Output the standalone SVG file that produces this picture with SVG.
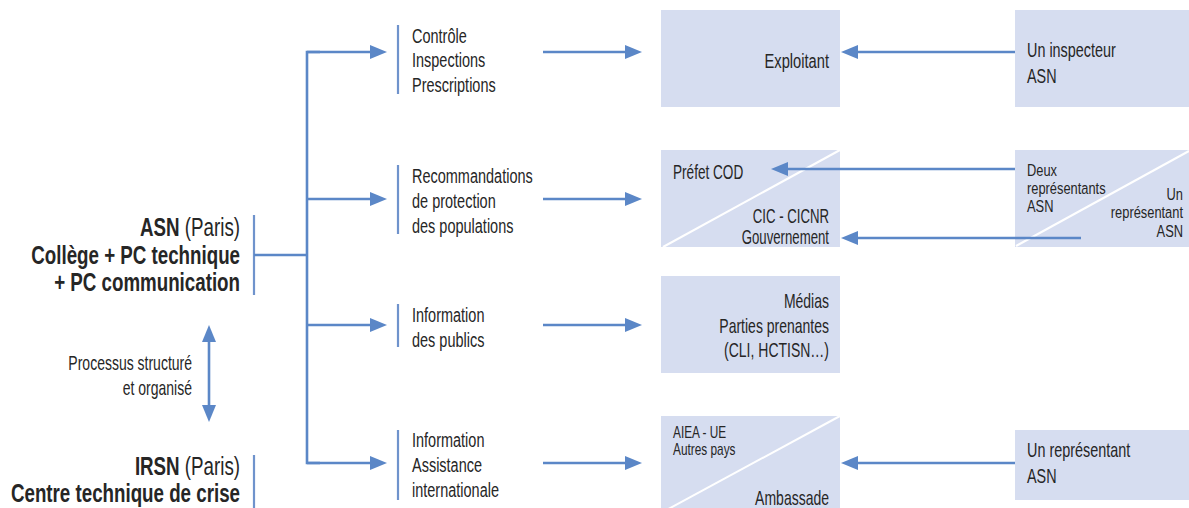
<svg xmlns="http://www.w3.org/2000/svg" width="1189" height="508" viewBox="0 0 1189 508">
  <defs>
    <marker id="head" markerUnits="userSpaceOnUse" markerWidth="17" markerHeight="14" refX="1" refY="7" orient="auto-start-reverse">
      <path d="M0,0 L17,7 L0,14 z" fill="#5b87c7"/>
    </marker>
    <style>
      .bg { fill: #ffffff; }
      .box { fill: #d6ddf0; }
      .split { stroke: #ffffff; stroke-width: 2; fill: none; }
      .wire { stroke: #5b87c7; stroke-width: 2.6; fill: none; }
      .arrow { stroke: #5b87c7; stroke-width: 2.6; fill: none; marker-end: url(#head); }
      .arrow2 { stroke: #5b87c7; stroke-width: 2.6; fill: none; marker-start: url(#head); marker-end: url(#head); }
      .bar { stroke: #6f93cc; stroke-width: 2.2; }
      text { font-family: "Liberation Sans", Arial, sans-serif; fill: #262626; }
      .t20 { font-size: 20px; }
      .t21 { font-size: 21px; }
      .t16 { font-size: 16px; }
      .t165 { font-size: 16.5px; }
      .hb { font-size: 25px; font-weight: bold; }
      .hr { font-size: 25px; font-weight: normal; }
      .end { text-anchor: end; }
    </style>
  </defs>

  <rect class="bg" x="0" y="0" width="1189" height="508"/>

  <!-- ASN headquarters -->
  <g id="asn">
    <line class="bar" x1="254" y1="215" x2="254" y2="295" stroke-width="2.6"/>
    <g transform="translate(240 0) scale(0.75 1)">
      <text class="end"><tspan class="hb" x="0" y="236">ASN</tspan><tspan class="hr"> (Paris)</tspan></text>
      <text class="hb end" x="0" y="264">Collège + PC technique</text>
      <text class="hb end" x="0" y="291">+ PC communication</text>
    </g>
  </g>

  <!-- Link between ASN and IRSN -->
  <g id="process">
    <g transform="translate(192 0) scale(0.7 1)">
      <text class="t20 end" x="0" y="370">Processus structuré</text>
      <text class="t20 end" x="0" y="395">et organisé</text>
    </g>
  </g>

  <!-- IRSN technical centre -->
  <g id="irsn">
    <line class="bar" x1="254" y1="455" x2="254" y2="510" stroke-width="2.6"/>
    <g transform="translate(240 0) scale(0.75 1)">
      <text class="end"><tspan class="hb" x="0" y="475">IRSN</tspan><tspan class="hr"> (Paris)</tspan></text>
      <text class="hb end" x="0" y="502">Centre technique de crise</text>
    </g>
  </g>

  <!-- Missions -->
  <g id="mission-controle">
    <line class="bar" x1="398" y1="25" x2="398" y2="94"/>
    <g transform="translate(412 0) scale(0.69 1)">
      <text class="t21" x="0" y="43">Contrôle</text>
      <text class="t21" x="0" y="67.5">Inspections</text>
      <text class="t21" x="0" y="92">Prescriptions</text>
    </g>
  </g>

  <g id="mission-protection">
    <line class="bar" x1="398" y1="165" x2="398" y2="234"/>
    <g transform="translate(412 0) scale(0.69 1)">
      <text class="t21" x="0" y="183">Recommandations</text>
      <text class="t21" x="0" y="208">de protection</text>
      <text class="t21" x="0" y="233">des populations</text>
    </g>
  </g>

  <g id="mission-information">
    <line class="bar" x1="398" y1="304" x2="398" y2="347"/>
    <g transform="translate(412 0) scale(0.69 1)">
      <text class="t21" x="0" y="322">Information</text>
      <text class="t21" x="0" y="347">des publics</text>
    </g>
  </g>

  <g id="mission-international">
    <line class="bar" x1="398" y1="430" x2="398" y2="500"/>
    <g transform="translate(412 0) scale(0.69 1)">
      <text class="t21" x="0" y="447">Information</text>
      <text class="t21" x="0" y="472">Assistance</text>
      <text class="t21" x="0" y="497">internationale</text>
    </g>
  </g>

  <!-- Recipients -->
  <g id="exploitant">
    <rect class="box" x="661" y="10" width="179" height="97"/>
    <g transform="translate(829 0) scale(0.7 1)">
      <text class="t21 end" x="0" y="68">Exploitant</text>
    </g>
  </g>

  <g id="prefet-gouvernement">
    <rect class="box" x="661" y="150" width="179" height="97"/>
    <line class="split" x1="663" y1="247" x2="840" y2="150"/>
    <g transform="translate(673 0) scale(0.68 1)">
      <text class="t20" x="0" y="179">Préfet COD</text>
    </g>
    <g transform="translate(829 0) scale(0.66 1)">
      <text class="t20 end" x="0" y="223">CIC - CICNR</text>
      <text class="t20 end" x="0" y="244">Gouvernement</text>
    </g>
  </g>

  <g id="medias">
    <rect class="box" x="661" y="276" width="179" height="97"/>
    <g transform="translate(829 0) scale(0.7 1)">
      <text class="t20 end" x="0" y="308">Médias</text>
      <text class="t20 end" x="0" y="333">Parties prenantes</text>
      <text class="t20 end" x="0" y="357">(CLI, HCTISN…)</text>
    </g>
  </g>

  <g id="aiea-ambassade">
    <rect class="box" x="661" y="416" width="179" height="97"/>
    <line class="split" x1="661" y1="513" x2="840" y2="416"/>
    <g transform="translate(673 0) scale(0.74 1)">
      <text class="t16" x="0" y="438">AIEA - UE</text>
      <text class="t16" x="0" y="455">Autres pays</text>
    </g>
    <g transform="translate(829 0) scale(0.7 1)">
      <text class="t20 end" x="0" y="505">Ambassade</text>
    </g>
  </g>

  <!-- ASN staff sent on site -->
  <g id="inspecteur">
    <rect class="box" x="1015" y="10" width="174" height="97"/>
    <g transform="translate(1027 0) scale(0.72 1)">
      <text class="t20" x="0" y="57">Un inspecteur</text>
      <text class="t20" x="0" y="83">ASN</text>
    </g>
  </g>

  <g id="representants">
    <rect class="box" x="1015" y="150" width="174" height="97"/>
    <line class="split" x1="1016" y1="246" x2="1189" y2="151"/>
    <g transform="translate(1027 0) scale(0.78 1)">
      <text class="t165" x="0" y="176">Deux</text>
      <text class="t165" x="0" y="194">représentants</text>
      <text class="t165" x="0" y="212">ASN</text>
    </g>
    <g transform="translate(1183 0) scale(0.78 1)">
      <text class="t165 end" x="0" y="200">Un</text>
      <text class="t165 end" x="0" y="218">représentant</text>
      <text class="t165 end" x="0" y="237">ASN</text>
    </g>
  </g>

  <g id="representant-international">
    <rect class="box" x="1015" y="430" width="174" height="70"/>
    <g transform="translate(1027 0) scale(0.72 1)">
      <text class="t20" x="0" y="457">Un représentant</text>
      <text class="t20" x="0" y="483">ASN</text>
    </g>
  </g>

  <!-- Connectors, drawn over the boxes -->
  <g id="connectors">
    <line class="wire" x1="254" y1="255" x2="307" y2="255"/>
    <path class="wire" d="M320,52 H307 V463 H320" stroke-linejoin="miter"/>
    <line class="arrow" x1="307" y1="52" x2="371" y2="52"/>
    <line class="arrow" x1="307" y1="199" x2="371" y2="199"/>
    <line class="arrow" x1="307" y1="325" x2="371" y2="325"/>
    <line class="arrow" x1="307" y1="463" x2="371" y2="463"/>

    <line class="arrow" x1="543" y1="52" x2="626" y2="52"/>
    <line class="arrow" x1="543" y1="199" x2="626" y2="199"/>
    <line class="arrow" x1="543" y1="325" x2="626" y2="325"/>
    <line class="arrow" x1="543" y1="463" x2="626" y2="463"/>

    <line class="arrow" x1="1015" y1="52" x2="857" y2="52"/>
    <line class="arrow" x1="1015" y1="169" x2="787" y2="169"/>
    <line class="arrow" x1="1081" y1="238" x2="857" y2="238"/>
    <line class="arrow" x1="1015" y1="463" x2="857" y2="463"/>

    <line class="arrow2" x1="209" y1="341" x2="209" y2="406"/>
  </g>
</svg>
